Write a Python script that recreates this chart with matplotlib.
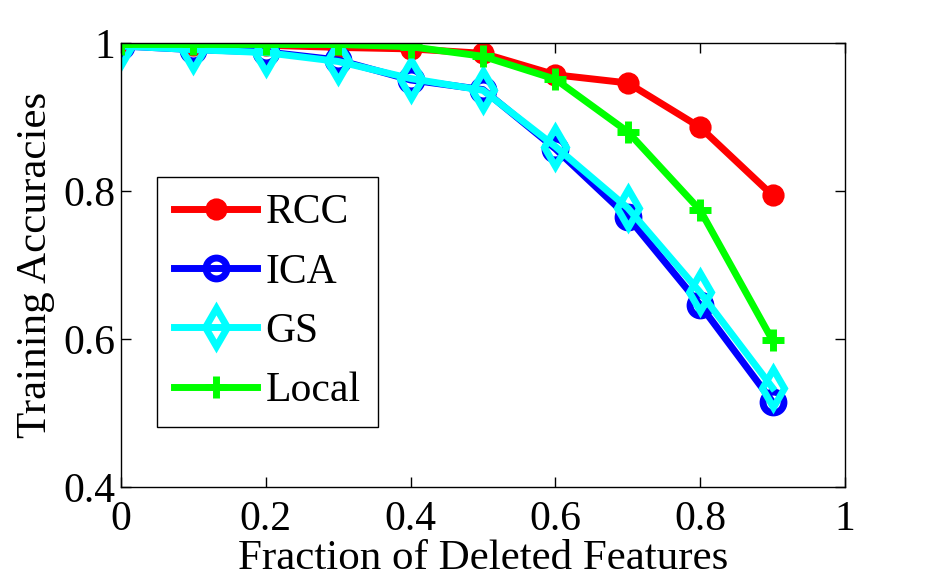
import numpy as np
import matplotlib
matplotlib.use('Agg')
import matplotlib.pyplot as plt

plt.rcParams['font.family'] = 'serif'
plt.rcParams['font.serif'] = ['Liberation Serif', 'DejaVu Serif']

fraction = [0.0, 0.1, 0.2, 0.3, 0.4, 0.5, 0.6, 0.7, 0.8, 0.9]
rcc = [0.998, 0.997, 0.997, 0.994, 0.992, 0.986, 0.957, 0.946, 0.886, 0.794]
ica = [0.996, 0.991, 0.988, 0.977, 0.950, 0.937, 0.857, 0.765, 0.646, 0.515]
gs = [0.996, 0.991, 0.987, 0.975, 0.952, 0.936, 0.860, 0.777, 0.663, 0.534]
local = [0.998, 0.998, 0.998, 0.998, 0.995, 0.982, 0.951, 0.880, 0.774, 0.598]

fig = plt.figure(figsize=(9.34, 5.8), dpi=100)
ax = fig.add_axes([0.1296, 0.1603, 0.7751, 0.7656])

lw = 5
ax.plot(fraction, rcc, '-', color='#ff0000', linewidth=lw, marker='o',
        markersize=14, markerfacecolor='#ff0000', markeredgewidth=2, label='RCC')
ax.plot(fraction, ica, '-', color='#0000ff', linewidth=lw, marker='o',
        markersize=15, markerfacecolor='none', markeredgewidth=5, label='ICA')
ax.plot(fraction, gs, '-', color='#00ffff', linewidth=lw, marker='d',
        markersize=19, markerfacecolor='none', markeredgewidth=5, label='GS')
ax.plot(fraction, local, '-', color='#00ff00', linewidth=lw, marker='+',
        markersize=16, markeredgewidth=5, label='Local')

ax.set_xlim(0, 1)
ax.set_ylim(0.4, 1)
ax.set_xticks([0, 0.2, 0.4, 0.6, 0.8, 1])
ax.set_xticklabels(['0', '0.2', '0.4', '0.6', '0.8', '1'])
ax.set_yticks([0.4, 0.6, 0.8, 1])
ax.set_yticklabels(['0.4', '0.6', '0.8', '1'])
ax.tick_params(direction='in', length=7, width=1, labelsize=30,
               top=True, right=True)
ax.tick_params(axis='x', pad=10)
ax.tick_params(axis='y', pad=4)
for s in ax.spines.values():
    s.set_linewidth(1)

ax.set_xlabel('Fraction of Deleted Features', fontsize=31, labelpad=0)
ax.set_ylabel('Training Accuracies', fontsize=31, labelpad=6)

leg = ax.legend(loc='lower left', bbox_to_anchor=(0.05, 0.135, 0.305, 0.568),
                mode='expand', fontsize=30, handlelength=2.0, handletextpad=0.2,
                labelspacing=0.5, borderaxespad=0, fancybox=False,
                edgecolor='black', framealpha=1, borderpad=0.4)
leg.get_frame().set_linewidth(1)

fig.savefig('out.png', dpi=100)
